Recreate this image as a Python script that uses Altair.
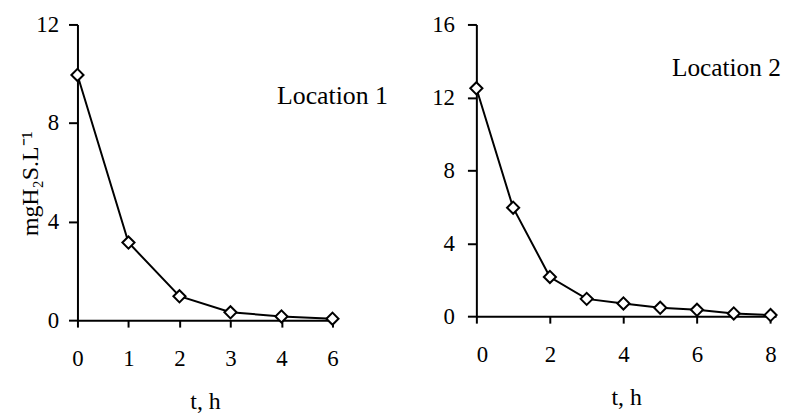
import altair as alt
import pandas as pd

# Location 1 (categorical time axis)
t1 = ["0", "1", "2", "3", "4", "6"]
c1 = [9.95, 3.15, 0.97, 0.32, 0.15, 0.06]
# Location 2
t2 = [0, 1, 2, 3, 4, 5, 6, 7, 8]
c2 = [12.5, 5.95, 2.15, 0.95, 0.7, 0.46, 0.35, 0.15, 0.06]

label1 = ["Location 1"]
label2 = ["Location 2"]

FONT = "Liberation Serif"

df1 = pd.DataFrame({"t": t1, "c": c1})
df2 = pd.DataFrame({"t": t2, "c": c2})
lab1 = pd.DataFrame({"t": ["6"], "c": [9.1], "text": label1})
lab2 = pd.DataFrame({"t": [6.8], "c": [13.6], "text": label2})

style = dict(domainColor="black", tickColor="black", labelColor="black", titleColor="black",
             domainWidth=2, tickWidth=2, grid=False, labelFont=FONT, titleFont=FONT,
             titleFontWeight="normal", labelFontSize=23, titleFontSize=24)
xaxis_common = dict(labelAngle=0, tickSize=7, labelPadding=21, titlePadding=19, **style)

# ---- left chart
x1 = alt.X("t:O", sort=t1, scale=alt.Scale(type="point", padding=0),
           axis=alt.Axis(title="t, h", **xaxis_common))
y1 = alt.Y("c:Q", scale=alt.Scale(domain=[0, 12], nice=False),
           axis=alt.Axis(values=[0, 4, 8, 12], title="mgH₂S.L⁻¹",
                         titleX=-47, titleY=160, titleAngle=-90,
                         titleAlign="center", titleBaseline="middle",
                         tickSize=9, labelPadding=10, **style))

line1 = alt.Chart(df1).mark_line(color="black", strokeWidth=2).encode(x=x1, y=y1)
pts1 = alt.Chart(df1).mark_point(shape="diamond", size=150, filled=True, fill="white",
                                 stroke="black", strokeWidth=2, opacity=1).encode(x=x1, y=y1)
txt1 = alt.Chart(lab1).mark_text(font=FONT, fontSize=26, align="center", baseline="middle",
                                 color="black").encode(x=alt.X("t:O", sort=t1), y="c:Q", text="text:N")
left = alt.layer(line1, pts1, txt1).properties(width=257, height=298)

# ---- right chart
x2 = alt.X("t:Q", scale=alt.Scale(domain=[0, 8.15], nice=False, zero=False),
           axis=alt.Axis(title="t, h", values=t2,
                         labelExpr="datum.value % 2 == 0 ? datum.label : ''", **xaxis_common))
y2 = alt.Y("c:Q", scale=alt.Scale(domain=[0, 16], nice=False),
           axis=alt.Axis(values=[0, 4, 8, 12, 16], title=None,
                         tickSize=9, labelPadding=13, **style))

line2 = alt.Chart(df2).mark_line(color="black", strokeWidth=2).encode(x=x2, y=y2)
pts2 = alt.Chart(df2).mark_point(shape="diamond", size=150, filled=True, fill="white",
                                 stroke="black", strokeWidth=2, opacity=1).encode(x=x2, y=y2)
txt2 = alt.Chart(lab2).mark_text(font=FONT, fontSize=25.5, align="center", baseline="middle",
                                 color="black").encode(x="t:Q", y="c:Q", text="text:N")
right = alt.layer(line2, pts2, txt2).properties(width=302, height=294)

chart = alt.hconcat(left, right, spacing=44).properties(
    background="white",
    padding={"left": 11, "top": 4, "right": 0, "bottom": 0},
).configure_view(stroke=None)

chart.save("out.html", embed_options={"renderer": "svg", "actions": False})
